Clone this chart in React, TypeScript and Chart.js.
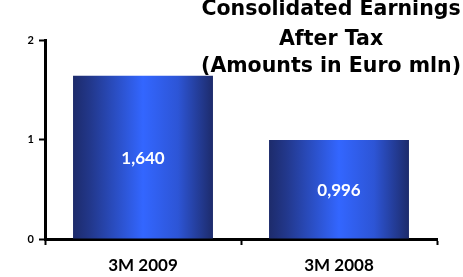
import React, { useEffect, useRef } from "react";
import { Chart, registerables } from "chart.js";

Chart.register(...registerables);

const categories = ["3M 2009", "3M 2008"];
const earnings = [1.64, 0.996];
const titleLines = ["Consolidated Earnings", "After Tax", "(Amounts in Euro mln)"];
const yMin = 0;
const yMax = 2;
const yStep = 1;

const FONT = "Lato, 'DejaVu Sans', sans-serif";
const TITLE_FONT = "'DejaVu Sans', sans-serif";
const BAR_PCT = 0.714;

const formatValue = (v: number) => v.toFixed(3).replace(".", ",");

const valueLabelPlugin = {
  id: "valueLabels",
  afterDatasetsDraw(chart: any) {
    const ctx = chart.ctx;
    const meta = chart.getDatasetMeta(0);
    ctx.save();
    ctx.fillStyle = "#ffffff";
    ctx.font = `bold 17px ${FONT}`;
    ctx.textAlign = "center";
    ctx.textBaseline = "middle";
    meta.data.forEach((el: any, i: number) => {
      const { x, y, base } = el.getProps(["x", "y", "base"], true);
      ctx.fillText(formatValue(earnings[i]), x, (y + base) / 2 + 1);
    });
    ctx.restore();
  },
};

const titlePlugin = {
  id: "titleLines",
  afterDraw(chart: any) {
    const ctx = chart.ctx;
    ctx.save();
    ctx.fillStyle = "#000000";
    ctx.font = `bold 20.5px ${TITLE_FONT}`;
    ctx.textAlign = "center";
    ctx.textBaseline = "alphabetic";
    const cx = chart.width * 0.715;
    const baselines = [15, 45, 72];
    titleLines.forEach((line, i) => ctx.fillText(line, cx, baselines[i]));
    ctx.restore();
  },
};

export default function App() {
  const ref = useRef<HTMLCanvasElement | null>(null);

  useEffect(() => {
    if (!ref.current) return;
    const chart = new Chart(ref.current, {
      type: "bar",
      data: {
        labels: categories,
        datasets: [
          {
            data: earnings,
            backgroundColor: (c: any) => {
              const ch = c.chart;
              const xs = ch.scales && ch.scales.x;
              if (!xs || c.type !== "data" || !xs.width) return "#3366ff";
              const x = xs.getPixelForValue(c.dataIndex);
              const w = (xs.width / categories.length) * BAR_PCT;
              const g = ch.ctx.createLinearGradient(x - w / 2, 0, x + w / 2, 0);
              g.addColorStop(0, "#1d2b6b");
              g.addColorStop(0.12, "#22378a");
              g.addColorStop(0.5, "#3366ff");
              g.addColorStop(0.75, "#2d55d6");
              g.addColorStop(1, "#1d2b6b");
              return g;
            },
            borderWidth: 0,
            barPercentage: BAR_PCT,
            categoryPercentage: 1,
          },
        ],
      },
      options: {
        animation: false,
        responsive: false,
        layout: { padding: { top: 40, right: 26, left: 0, bottom: 0 } },
        plugins: {
          legend: { display: false },
          tooltip: { enabled: false },
          title: { display: false },
        },
        scales: {
          x: {
            afterFit: (s: any) => {
              s.height = 38;
            },
            border: { color: "#000000", width: 3 },
            grid: {
              offset: true,
              drawOnChartArea: false,
              drawTicks: true,
              tickLength: 6,
              tickColor: "#000000",
              tickWidth: 2,
              color: "#000000",
            },
            ticks: {
              color: "#000000",
              font: { family: FONT, size: 17, weight: "bold" },
              padding: 10,
            },
          },
          y: {
            min: yMin,
            max: yMax,
            afterFit: (s: any) => {
              s.width = 45;
            },
            border: { color: "#000000", width: 3 },
            grid: {
              drawOnChartArea: false,
              drawTicks: true,
              tickLength: 6,
              tickColor: "#000000",
              tickWidth: 2,
              color: "#000000",
            },
            ticks: {
              stepSize: yStep,
              color: "#000000",
              font: { family: FONT, size: 11, weight: "bold" },
              padding: 5,
            },
          },
        },
      },
      plugins: [valueLabelPlugin, titlePlugin],
    });
    return () => chart.destroy();
  }, []);

  return (
    <div style={{ position: "fixed", left: 0, top: 0, width: 463, height: 277, background: "#fff" }}>
      <canvas ref={ref} width={463} height={277} />
    </div>
  );
}
